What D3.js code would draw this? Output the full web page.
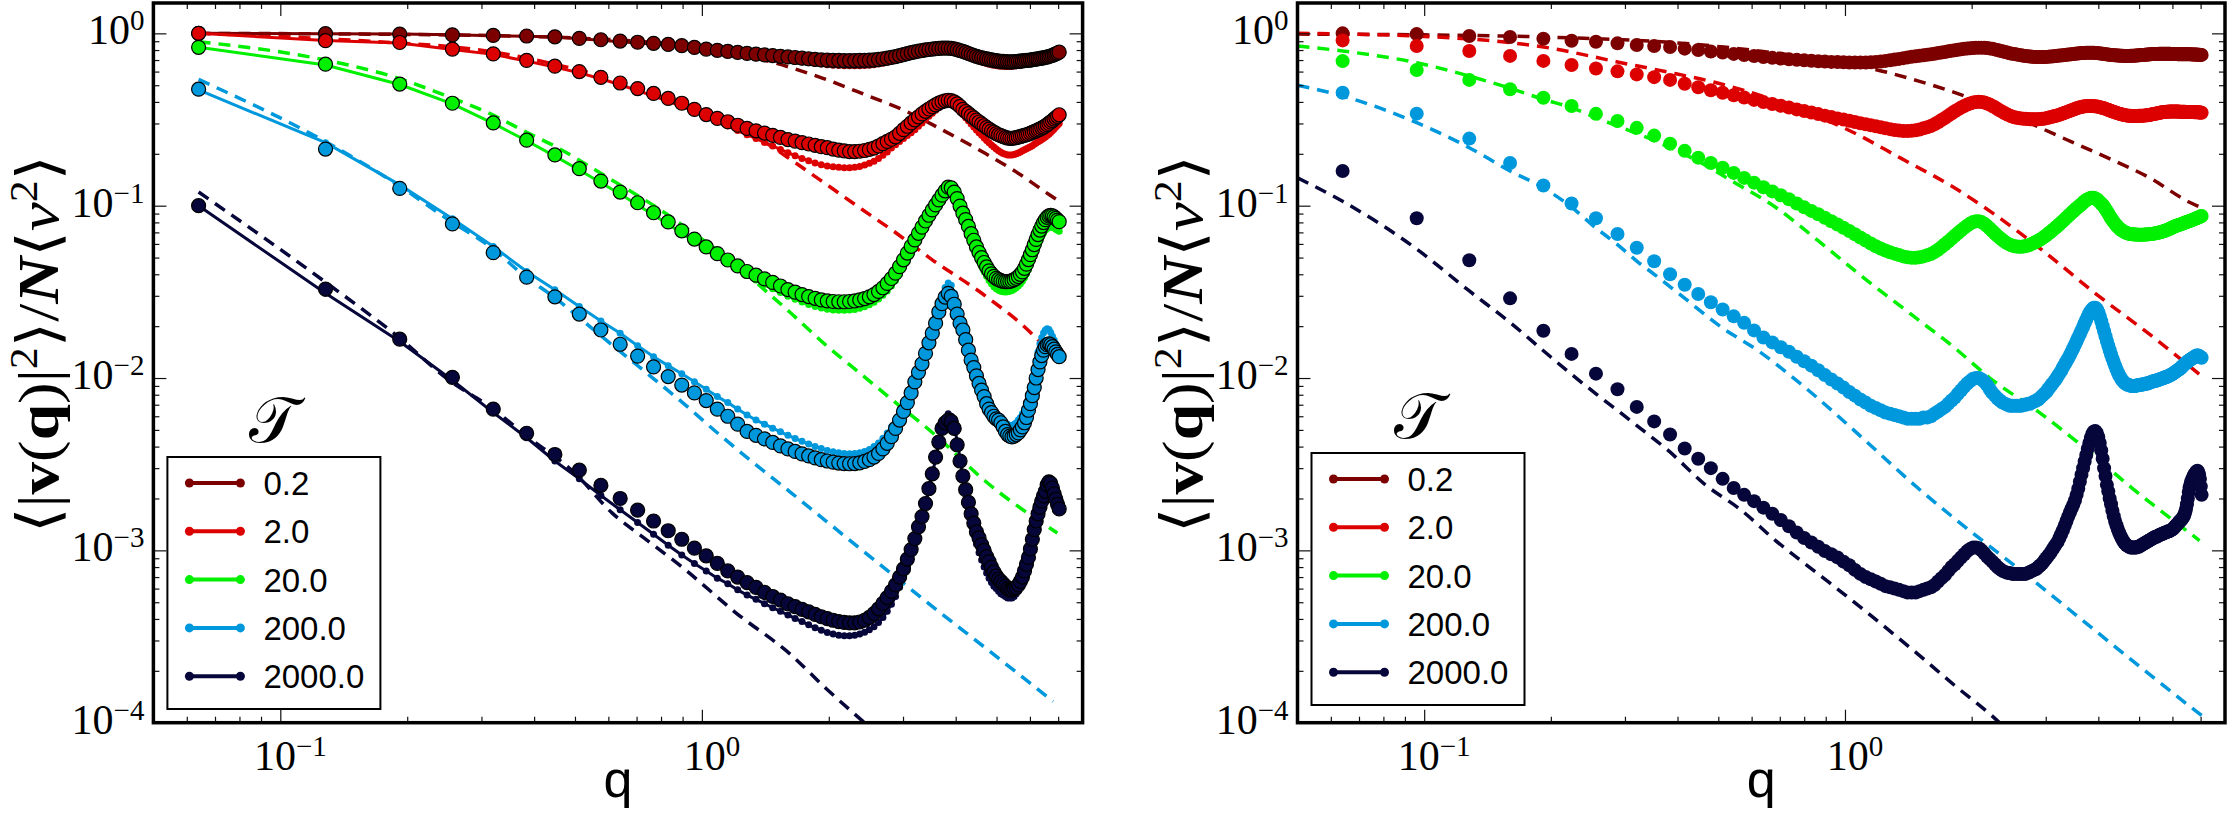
<!DOCTYPE html>
<html>
<head>
<meta charset="utf-8">
<title>velocity spectra</title>
<script src="https://cdn.jsdelivr.net/npm/d3@7"></script>
<style>
  body { margin: 0; background: #fff; }
  svg { display: block; }
</style>
</head>
<body>
<div class="figure"></div>
<script>
// ---------- data ----------
let tauLabels = ["0.2", "2.0", "20.0", "200.0", "2000.0"];
let colors = ["#7d0000", "#dc0000", "#00f000", "#0098dc", "#06063a"];

// left panel: q grid of the simulation points
let qLeft = [0.064,0.128,0.192,0.256,0.32,0.384,0.448,0.512,0.576,0.64,
  0.704,0.768,0.832,0.896,0.96,1.024,1.088,1.152,1.216,1.28,
  1.344,1.408,1.472,1.536,1.6,1.664,1.728,1.792,1.856,1.92,
  1.984,2.048,2.112,2.176,2.24,2.304,2.368,2.432,2.496,2.56,
  2.624,2.688,2.752,2.816,2.88,2.944,3.008,3.072,3.136,3.2,
  3.264,3.328,3.392,3.456,3.52,3.584,3.648,3.712,3.776,3.84,
  3.904,3.968,4.032,4.096,4.16,4.224,4.288,4.352,4.416,4.48,
  4.544,4.608,4.672,4.736,4.8,4.864,4.928,4.992,5.056,5.12,
  5.184,5.248,5.312,5.376,5.44,5.504,5.568,5.632,5.696,5.76,
  5.824,5.888,5.952,6.016,6.08,6.144,6.208,6.272,6.336,6.4,
  6.464,6.528,6.592,6.656,6.72,6.784,6.848,6.912,6.976,7.04];

// right panel: q grid
let qRight = [0.064,0.096,0.128,0.16,0.192,0.224,0.256,0.288,0.32,
  0.352,0.384,0.416,0.448,0.48,0.512,0.544,0.576,0.608,0.64,
  0.672,0.704,0.736,0.768,0.8,0.832,0.864,0.896,0.928,0.96,
  0.992,1.024,1.056,1.088,1.12,1.152,1.184,1.216,1.248,1.28,
  1.312,1.344,1.376,1.408,1.44,1.472,1.504,1.536,1.568,1.6,
  1.632,1.664,1.696,1.728,1.76,1.792,1.824,1.856,1.888,1.92,
  1.952,1.984,2.016,2.048,2.08,2.112,2.144,2.176,2.208,2.24,
  2.272,2.304,2.336,2.368,2.4,2.432,2.464,2.496,2.528,2.56,
  2.592,2.624,2.656,2.688,2.72,2.752,2.784,2.816,2.848,2.88,
  2.912,2.944,2.976,3.008,3.04,3.072,3.104,3.136,3.168,3.2,
  3.232,3.264,3.296,3.328,3.36,3.392,3.424,3.456,3.488,3.52,
  3.552,3.584,3.616,3.648,3.68,3.712,3.744,3.776,3.808,3.84,
  3.872,3.904,3.936,3.968,4.0,4.032,4.064,4.096,4.128,4.16,
  4.192,4.224,4.256,4.288,4.32,4.352,4.384,4.416,4.448,4.48,
  4.512,4.544,4.576,4.608,4.64,4.672,4.704,4.736,4.768,4.8,
  4.832,4.864,4.896,4.928,4.96,4.992,5.024,5.056,5.088,5.12,
  5.152,5.184,5.216,5.248,5.28,5.312,5.344,5.376,5.408,5.44,
  5.472,5.504,5.536,5.568,5.6,5.632,5.664,5.696,5.728,5.76,
  5.792,5.824,5.856,5.888,5.92,5.952,5.984,6.016,6.048,6.08,
  6.112,6.144,6.176,6.208,6.24,6.272,6.304,6.336,6.368,6.4,
  6.432,6.464,6.496,6.528,6.56,6.592,6.624,6.656,6.688,6.72,
  6.752,6.784,6.816,6.848,6.88,6.912,6.944,6.976,7.008,7.04];

// left panel, big black-edged circles
let leftCirc0 = [1.0,0.995,0.99,0.98,0.972,0.965,0.955,0.935,0.918,0.902,
  0.888,0.875,0.862,0.848,0.828,0.81,0.797,0.785,0.775,0.765,
  0.757,0.75,0.743,0.736,0.73,0.724,0.718,0.712,0.706,0.701,
  0.699,0.697,0.696,0.695,0.695,0.695,0.696,0.697,0.699,0.701,
  0.706,0.712,0.718,0.725,0.733,0.743,0.753,0.763,0.772,0.781,
  0.788,0.795,0.801,0.806,0.811,0.815,0.818,0.82,0.821,0.821,
  0.818,0.812,0.804,0.795,0.785,0.775,0.764,0.754,0.744,0.735,
  0.728,0.722,0.716,0.711,0.706,0.701,0.697,0.694,0.691,0.689,
  0.687,0.685,0.684,0.683,0.683,0.684,0.686,0.688,0.69,0.692,
  0.694,0.696,0.698,0.7,0.703,0.706,0.709,0.712,0.715,0.718,
  0.721,0.725,0.729,0.734,0.739,0.745,0.752,0.76,0.768,0.778];
let leftCirc1 = [1.0,0.907,0.885,0.81,0.76,0.697,0.645,0.6,0.556,0.515,
  0.478,0.448,0.419,0.393,0.362,0.338,0.321,0.307,0.293,0.281,
  0.272,0.264,0.256,0.249,0.242,0.237,0.232,0.228,0.224,0.22,
  0.217,0.213,0.21,0.208,0.206,0.206,0.207,0.209,0.212,0.216,
  0.222,0.229,0.236,0.243,0.251,0.263,0.276,0.289,0.302,0.315,
  0.328,0.341,0.353,0.364,0.375,0.385,0.394,0.401,0.406,0.409,
  0.407,0.4,0.39,0.377,0.362,0.352,0.342,0.332,0.323,0.314,
  0.306,0.298,0.291,0.284,0.278,0.272,0.267,0.262,0.258,0.255,
  0.252,0.249,0.247,0.246,0.246,0.247,0.248,0.25,0.252,0.254,
  0.256,0.258,0.26,0.263,0.266,0.269,0.272,0.275,0.278,0.282,
  0.286,0.29,0.295,0.3,0.306,0.312,0.318,0.324,0.33,0.337];
let leftCirc2 = [0.83,0.662,0.508,0.393,0.302,0.24,0.197,0.164,0.139,0.12,
  0.104,0.091,0.0805,0.0715,0.064,0.0576,0.0527,0.0484,0.0447,0.0415,
  0.0395,0.0376,0.0359,0.0342,0.0326,0.0315,0.0305,0.0297,0.029,0.0284,
  0.028,0.0278,0.0277,0.0277,0.0278,0.028,0.0284,0.0289,0.0296,0.0305,
  0.0318,0.0334,0.0354,0.0378,0.0406,0.0443,0.0485,0.0531,0.0581,0.0633,
  0.0691,0.0751,0.0815,0.088,0.0945,0.101,0.108,0.115,0.122,0.128,
  0.127,0.12,0.11,0.0995,0.0905,0.083,0.0758,0.0688,0.063,0.0576,
  0.0535,0.0499,0.0468,0.0441,0.0419,0.0402,0.0389,0.0379,0.0372,0.0367,
  0.0364,0.0363,0.0363,0.0364,0.0367,0.0372,0.0379,0.0388,0.0399,0.0413,
  0.0433,0.0458,0.0487,0.052,0.0555,0.0595,0.0637,0.068,0.0722,0.0762,
  0.0798,0.083,0.0856,0.0872,0.0878,0.0873,0.086,0.0843,0.0825,0.0808];
let leftCirc3 = [0.474,0.213,0.126,0.0784,0.0534,0.0385,0.0296,0.0235,0.019,0.0157,
  0.0134,0.0116,0.0102,0.0091,0.0082,0.0074,0.0066,0.006,0.0054,0.0049,
  0.00465,0.00443,0.00423,0.00404,0.00388,0.00375,0.00363,0.00353,0.00344,0.00336,
  0.0033,0.00325,0.00321,0.00319,0.00318,0.00319,0.00322,0.00328,0.00336,0.00348,
  0.00365,0.00388,0.00418,0.00457,0.0051,0.0057,0.0064,0.0072,0.0082,0.0095,
  0.0108,0.0121,0.0139,0.016,0.0182,0.0208,0.0242,0.027,0.0295,0.031,
  0.0298,0.0268,0.0235,0.0208,0.019,0.0167,0.0145,0.0127,0.0115,0.0103,
  0.0093,0.0085,0.0078,0.0071,0.0066,0.0063,0.006,0.0058,0.0057,0.0055,
  0.0052,0.0049,0.0047,0.0046,0.00455,0.0046,0.0047,0.0048,0.005,0.0052,
  0.0055,0.0059,0.0065,0.0071,0.0079,0.0088,0.01,0.0112,0.0124,0.0135,
  0.0145,0.0152,0.0156,0.0158,0.0156,0.0152,0.0147,0.0142,0.0137,0.0133];
let leftCirc4 = [0.1,0.0328,0.0168,0.0101,0.0066,0.00478,0.0036,0.00292,0.00238,0.002,
  0.00171,0.00148,0.0013,0.00116,0.00103,0.00093,0.00084,0.00076,0.0007,0.00065,
  0.00061,0.00057,0.00054,0.000515,0.00049,0.000472,0.000455,0.00044,0.000425,0.000412,
  0.000402,0.000393,0.000386,0.000382,0.00038,0.00038,0.000384,0.000393,0.000408,0.00043,
  0.000458,0.000492,0.000532,0.000578,0.00063,0.0007,0.00078,0.00089,0.00101,0.00117,
  0.00137,0.00157,0.00187,0.00228,0.00278,0.00348,0.00425,0.0051,0.0055,0.0057,
  0.0056,0.0051,0.0041,0.0033,0.0027,0.00225,0.0019,0.00163,0.00144,0.00128,
  0.00118,0.00108,0.001,0.00092,0.00086,0.0008,0.00075,0.00071,0.00068,0.00066,
  0.00064,0.00062,0.0006,0.00059,0.00059,0.0006,0.00061,0.00063,0.00066,0.0007,
  0.00076,0.00083,0.00091,0.00102,0.00116,0.00132,0.00148,0.00163,0.00178,0.00193,
  0.00207,0.0022,0.0024,0.0025,0.00245,0.0023,0.00213,0.00198,0.00185,0.00174];

// left panel, solid line with small dots
let leftLine0 = [1.0,0.995,0.99,0.98,0.97,0.962,0.952,0.93,0.912,0.895,
  0.88,0.866,0.852,0.838,0.818,0.8,0.786,0.772,0.76,0.748,
  0.737,0.727,0.717,0.707,0.698,0.69,0.682,0.675,0.669,0.663,
  0.658,0.654,0.651,0.649,0.648,0.648,0.649,0.651,0.654,0.658,
  0.664,0.671,0.679,0.688,0.698,0.71,0.722,0.735,0.748,0.76,
  0.77,0.779,0.787,0.794,0.8,0.805,0.809,0.811,0.812,0.811,
  0.807,0.8,0.79,0.778,0.765,0.752,0.738,0.725,0.713,0.702,
  0.692,0.683,0.675,0.668,0.662,0.657,0.653,0.65,0.647,0.645,
  0.644,0.643,0.643,0.643,0.644,0.646,0.648,0.651,0.654,0.657,
  0.66,0.663,0.666,0.67,0.673,0.677,0.681,0.685,0.689,0.693,
  0.697,0.702,0.707,0.713,0.719,0.726,0.733,0.741,0.75,0.76];
let leftLine1 = [1.0,0.91,0.88,0.805,0.755,0.69,0.638,0.59,0.545,0.503,
  0.465,0.433,0.403,0.377,0.352,0.328,0.308,0.29,0.273,0.258,
  0.245,0.233,0.222,0.212,0.203,0.195,0.188,0.182,0.177,0.173,
  0.17,0.168,0.167,0.166,0.166,0.167,0.169,0.172,0.176,0.181,
  0.188,0.196,0.205,0.216,0.226,0.236,0.245,0.255,0.265,0.276,
  0.289,0.302,0.316,0.33,0.344,0.358,0.371,0.382,0.39,0.393,
  0.39,0.381,0.368,0.353,0.338,0.324,0.311,0.298,0.286,0.275,
  0.265,0.256,0.247,0.239,0.232,0.225,0.219,0.213,0.208,0.204,
  0.201,0.199,0.197,0.197,0.197,0.198,0.2,0.202,0.205,0.208,
  0.211,0.214,0.217,0.22,0.223,0.227,0.231,0.235,0.238,0.242,
  0.246,0.25,0.255,0.26,0.266,0.272,0.279,0.286,0.293,0.3];
let leftLine2 = [0.83,0.655,0.505,0.39,0.3,0.238,0.194,0.161,0.136,0.117,
  0.101,0.0883,0.078,0.0693,0.062,0.0557,0.0507,0.0464,0.0427,0.0395,
  0.0371,0.0349,0.033,0.0313,0.0298,0.0286,0.0276,0.0267,0.026,0.0255,
  0.0251,0.0248,0.0247,0.0247,0.0248,0.025,0.0254,0.0259,0.0266,0.0275,
  0.0287,0.0302,0.032,0.0342,0.0368,0.0401,0.0439,0.048,0.0526,0.0575,
  0.0628,0.0684,0.0743,0.0804,0.0866,0.0929,0.0993,0.106,0.113,0.118,
  0.117,0.111,0.102,0.0925,0.0838,0.0763,0.0692,0.0625,0.0568,0.0518,
  0.0478,0.0444,0.0414,0.0389,0.0368,0.0352,0.0339,0.033,0.0323,0.0319,
  0.0317,0.0316,0.0317,0.0319,0.0322,0.0327,0.0334,0.0342,0.0352,0.0365,
  0.0382,0.0403,0.0427,0.0455,0.0486,0.052,0.0556,0.0593,0.063,0.0665,
  0.0695,0.072,0.0738,0.0748,0.0752,0.0749,0.0741,0.073,0.072,0.071];
let leftLine3 = [0.47,0.232,0.132,0.084,0.058,0.0415,0.0325,0.026,0.0214,0.0182,
  0.0154,0.0133,0.0118,0.0106,0.0095,0.0086,0.0078,0.0072,0.0066,0.0061,
  0.0057,0.0054,0.00512,0.00487,0.00465,0.00446,0.00429,0.00414,0.00401,0.0039,
  0.0038,0.00373,0.00368,0.00365,0.00364,0.00365,0.00368,0.00375,0.00385,0.004,
  0.0042,0.00447,0.0048,0.0052,0.0057,0.0064,0.0072,0.0082,0.0094,0.0108,
  0.0123,0.014,0.0159,0.018,0.0203,0.0228,0.0262,0.0298,0.0335,0.0356,
  0.0345,0.031,0.0272,0.0238,0.021,0.0184,0.0162,0.0143,0.0127,0.0114,
  0.0103,0.0094,0.0086,0.0079,0.0074,0.0069,0.0065,0.0062,0.006,0.0058,
  0.0056,0.0055,0.0054,0.0053,0.0053,0.0054,0.0055,0.0057,0.0059,0.0062,
  0.0066,0.0071,0.0078,0.0087,0.0098,0.0111,0.0126,0.0142,0.0158,0.0172,
  0.0183,0.019,0.0193,0.0191,0.0184,0.0175,0.0166,0.0158,0.0151,0.0145];
let leftLine4 = [0.1,0.031,0.0163,0.0097,0.0063,0.0045,0.0033,0.0026,0.00208,0.00172,
  0.00145,0.00124,0.00107,0.00094,0.00084,0.00076,0.00069,0.00064,0.00059,0.00055,
  0.00052,0.00049,0.000465,0.000443,0.000422,0.000403,0.000386,0.00037,0.000356,0.000344,
  0.000334,0.000327,0.000322,0.00032,0.00032,0.000322,0.000327,0.000335,0.000346,0.00036,
  0.000381,0.000408,0.000443,0.000487,0.00054,0.00061,0.0007,0.00081,0.00094,0.00111,
  0.00131,0.00155,0.00185,0.00224,0.00275,0.0034,0.0042,0.0051,0.0058,0.0062,
  0.006,0.0053,0.0043,0.0034,0.0027,0.00215,0.00175,0.00146,0.00125,0.00109,
  0.00097,0.00088,0.0008,0.00074,0.00069,0.00065,0.00062,0.0006,0.00058,0.00056,
  0.00055,0.00054,0.00053,0.00053,0.00053,0.00054,0.00056,0.00058,0.00062,0.00067,
  0.00074,0.00083,0.00095,0.0011,0.00128,0.00148,0.00168,0.00188,0.00207,0.00224,
  0.00238,0.00248,0.00254,0.00254,0.00248,0.00238,0.00226,0.00214,0.00204,0.00196];

// right panel, filled dots
let rightDots0 = [1.0,0.99,0.965,0.952,0.93,0.905,0.893,0.875,0.855,
  0.845,0.833,0.815,0.8,0.785,0.773,0.76,0.749,0.738,0.729,
  0.721,0.714,0.708,0.702,0.697,0.693,0.689,0.686,0.683,0.681,
  0.679,0.678,0.677,0.677,0.678,0.68,0.683,0.687,0.692,0.697,
  0.704,0.711,0.718,0.725,0.732,0.737,0.742,0.747,0.751,0.756,
  0.762,0.768,0.774,0.78,0.786,0.792,0.798,0.803,0.808,0.813,
  0.817,0.82,0.823,0.825,0.826,0.826,0.825,0.822,0.818,0.813,
  0.807,0.8,0.793,0.786,0.779,0.773,0.767,0.762,0.758,0.754,
  0.75,0.746,0.742,0.739,0.736,0.734,0.732,0.73,0.729,0.728,
  0.728,0.728,0.729,0.73,0.731,0.733,0.735,0.737,0.739,0.741,
  0.743,0.745,0.747,0.749,0.751,0.753,0.755,0.757,0.759,0.761,
  0.763,0.765,0.767,0.768,0.769,0.77,0.771,0.772,0.772,0.772,
  0.772,0.771,0.77,0.769,0.767,0.765,0.763,0.761,0.759,0.757,
  0.755,0.753,0.751,0.749,0.748,0.747,0.746,0.745,0.744,0.743,
  0.742,0.741,0.741,0.74,0.74,0.74,0.74,0.74,0.741,0.741,
  0.742,0.742,0.743,0.744,0.745,0.746,0.747,0.748,0.749,0.75,
  0.751,0.752,0.753,0.754,0.755,0.756,0.757,0.758,0.758,0.759,
  0.759,0.76,0.76,0.761,0.761,0.761,0.762,0.762,0.762,0.762,
  0.762,0.762,0.761,0.761,0.761,0.76,0.76,0.759,0.759,0.758,
  0.758,0.758,0.757,0.757,0.757,0.756,0.756,0.756,0.756,0.756,
  0.756,0.756,0.756,0.756,0.756,0.756,0.756,0.755,0.755,0.755,
  0.754,0.754,0.753,0.753,0.752,0.752,0.751,0.751,0.75,0.75];
let rightDots1 = [0.91,0.845,0.79,0.74,0.692,0.655,0.625,0.602,0.578,
  0.557,0.537,0.51,0.487,0.468,0.452,0.437,0.424,0.411,0.399,
  0.389,0.38,0.371,0.362,0.354,0.347,0.34,0.333,0.327,0.321,
  0.316,0.311,0.306,0.301,0.297,0.293,0.289,0.285,0.281,0.278,
  0.275,0.273,0.271,0.271,0.272,0.274,0.277,0.281,0.285,0.29,
  0.297,0.305,0.314,0.323,0.333,0.343,0.353,0.362,0.371,0.379,
  0.386,0.392,0.397,0.4,0.401,0.4,0.397,0.392,0.386,0.379,
  0.372,0.364,0.357,0.35,0.344,0.338,0.333,0.329,0.326,0.324,
  0.322,0.321,0.32,0.319,0.318,0.317,0.317,0.317,0.317,0.317,
  0.318,0.319,0.32,0.322,0.324,0.326,0.328,0.33,0.332,0.334,
  0.337,0.34,0.343,0.346,0.349,0.352,0.355,0.358,0.361,0.364,
  0.367,0.37,0.372,0.374,0.376,0.377,0.378,0.379,0.379,0.379,
  0.379,0.378,0.377,0.376,0.375,0.373,0.371,0.369,0.367,0.365,
  0.362,0.36,0.357,0.355,0.352,0.35,0.348,0.346,0.344,0.342,
  0.34,0.339,0.337,0.336,0.335,0.334,0.333,0.332,0.332,0.331,
  0.331,0.331,0.331,0.331,0.331,0.332,0.332,0.332,0.333,0.333,
  0.334,0.334,0.335,0.335,0.336,0.337,0.338,0.339,0.34,0.341,
  0.342,0.343,0.344,0.345,0.346,0.347,0.348,0.349,0.35,0.35,
  0.351,0.351,0.351,0.352,0.352,0.352,0.352,0.352,0.352,0.352,
  0.352,0.352,0.352,0.352,0.351,0.351,0.351,0.351,0.351,0.351,
  0.351,0.35,0.35,0.35,0.35,0.35,0.35,0.35,0.35,0.35,
  0.349,0.349,0.349,0.348,0.348,0.348,0.347,0.347,0.347,0.346];
let rightDots2 = [0.69,0.613,0.537,0.474,0.423,0.379,0.341,0.31,0.283,
  0.255,0.229,0.208,0.19,0.177,0.166,0.155,0.145,0.136,0.128,
  0.121,0.115,0.109,0.103,0.0978,0.0933,0.0891,0.0851,0.0813,0.0778,
  0.0745,0.0713,0.0683,0.0654,0.0627,0.0603,0.0582,0.0564,0.0549,0.0537,
  0.0527,0.0517,0.0508,0.0502,0.0499,0.0499,0.0502,0.0508,0.0515,0.0524,
  0.0538,0.0555,0.0575,0.0597,0.062,0.0644,0.0669,0.0694,0.0719,0.0743,
  0.0766,0.0787,0.0803,0.0812,0.0812,0.0803,0.0786,0.0763,0.0738,0.0713,
  0.069,0.0668,0.0649,0.0632,0.0617,0.0604,0.0594,0.0587,0.0582,0.0579,
  0.0578,0.0578,0.058,0.0583,0.0588,0.0594,0.0601,0.0609,0.0618,0.0627,
  0.0637,0.0648,0.066,0.0673,0.0687,0.0701,0.0716,0.0731,0.0747,0.0763,
  0.078,0.0797,0.0815,0.0833,0.0852,0.0871,0.089,0.0909,0.0928,0.0947,
  0.0966,0.0985,0.1,0.102,0.104,0.106,0.108,0.109,0.11,0.111,
  0.111,0.111,0.11,0.109,0.107,0.105,0.103,0.101,0.0985,0.0958,
  0.093,0.0902,0.0875,0.0849,0.0826,0.0805,0.0786,0.0769,0.0754,0.0741,
  0.073,0.072,0.0712,0.0705,0.0699,0.0694,0.069,0.0687,0.0685,0.0683,
  0.0682,0.0681,0.068,0.068,0.0679,0.0679,0.0679,0.0679,0.0679,0.0679,
  0.068,0.068,0.0681,0.0682,0.0683,0.0684,0.0685,0.0686,0.0688,0.069,
  0.0692,0.0694,0.0696,0.0698,0.07,0.0703,0.0706,0.0709,0.0712,0.0715,
  0.0719,0.0723,0.0727,0.0731,0.0735,0.0739,0.0744,0.0749,0.0754,0.0759,
  0.0763,0.0766,0.077,0.0773,0.0776,0.0779,0.0783,0.0786,0.079,0.0794,
  0.0798,0.0801,0.0805,0.0808,0.0812,0.0815,0.0819,0.0822,0.0826,0.083,
  0.0834,0.0838,0.0842,0.0846,0.085,0.0854,0.0858,0.0863,0.0867,0.0872];
let rightDots3 = [0.452,0.342,0.245,0.177,0.131,0.103,0.0845,0.0685,0.057,
  0.0476,0.04,0.0348,0.0307,0.0275,0.025,0.0228,0.0209,0.0189,0.0172,
  0.0161,0.0151,0.0142,0.0133,0.0125,0.0118,0.0111,0.0104,0.0098,0.0093,
  0.0088,0.0083,0.0079,0.0075,0.0072,0.0069,0.0067,0.0065,0.0063,0.0062,
  0.0061,0.006,0.0059,0.0058,0.0058,0.0058,0.0058,0.0059,0.0059,0.006,
  0.0062,0.0064,0.0066,0.0068,0.0071,0.0074,0.0077,0.0081,0.0085,0.0089,
  0.0093,0.0096,0.0099,0.01,0.01,0.0098,0.0095,0.0091,0.0086,0.0082,
  0.0079,0.0076,0.0074,0.0072,0.0071,0.007,0.0069,0.0069,0.0069,0.0069,
  0.0069,0.0069,0.007,0.007,0.0071,0.0071,0.0072,0.0073,0.0074,0.0075,
  0.0077,0.0079,0.0081,0.0083,0.0086,0.0089,0.0092,0.0095,0.0098,0.0102,
  0.0106,0.011,0.0115,0.012,0.0125,0.013,0.0136,0.0142,0.0149,0.0156,
  0.0164,0.0172,0.018,0.0189,0.0198,0.0208,0.0218,0.0228,0.0238,0.0246,
  0.0252,0.0256,0.0256,0.0251,0.0241,0.0228,0.0214,0.02,0.0187,0.0175,
  0.0164,0.0154,0.0145,0.0137,0.013,0.0124,0.0118,0.0113,0.0108,0.0104,
  0.0101,0.0098,0.0096,0.0094,0.0093,0.0092,0.0091,0.0091,0.009,0.009,
  0.009,0.009,0.009,0.009,0.0091,0.0091,0.0091,0.0091,0.0092,0.0092,
  0.0092,0.0093,0.0093,0.0093,0.0094,0.0094,0.0095,0.0095,0.0096,0.0096,
  0.0096,0.0097,0.0097,0.0098,0.0098,0.0099,0.0099,0.01,0.01,0.0101,
  0.0101,0.0102,0.0102,0.0103,0.0104,0.0104,0.0105,0.0106,0.0107,0.0108,
  0.0109,0.011,0.0111,0.0112,0.0113,0.0114,0.0115,0.0117,0.0118,0.012,
  0.0121,0.0122,0.0123,0.0125,0.0126,0.0127,0.0128,0.0129,0.013,0.0131,
  0.0132,0.0133,0.0134,0.0135,0.0135,0.0135,0.0134,0.0133,0.0132,0.0131];
let rightDots4 = [0.159,0.0845,0.0482,0.029,0.0188,0.0138,0.0106,0.0086,0.0068,
  0.0056,0.0047,0.0039,0.0034,0.003,0.0026,0.0023,0.0021,0.00193,0.00177,
  0.00163,0.0015,0.00138,0.00127,0.00118,0.00111,0.00105,0.00099,0.00095,0.00091,
  0.00086,0.00082,0.00077,0.00073,0.0007,0.00068,0.00066,0.00064,0.00062,0.00061,
  0.0006,0.00059,0.00058,0.00057,0.00057,0.00057,0.00058,0.00059,0.0006,0.00061,
  0.00063,0.00066,0.00069,0.00072,0.00076,0.0008,0.00083,0.00087,0.00091,0.00095,
  0.00099,0.00102,0.00104,0.00104,0.00103,0.001,0.00096,0.00092,0.00089,0.00086,
  0.00083,0.0008,0.00078,0.00076,0.00075,0.00074,0.00074,0.00073,0.00073,0.00073,
  0.00073,0.00073,0.00073,0.00073,0.00074,0.00075,0.00076,0.00077,0.00078,0.0008,
  0.00082,0.00084,0.00087,0.0009,0.00093,0.00096,0.001,0.00104,0.00108,0.00112,
  0.00118,0.00124,0.00131,0.00139,0.00148,0.00157,0.00166,0.00175,0.00184,0.00195,
  0.0021,0.00228,0.0025,0.00275,0.003,0.00328,0.00358,0.00389,0.0042,0.0045,
  0.00475,0.0049,0.00492,0.0048,0.00455,0.0042,0.0038,0.0034,0.003,0.0027,
  0.0024,0.0022,0.002,0.00185,0.0017,0.00158,0.00148,0.0014,0.00133,0.00127,
  0.00122,0.00118,0.00114,0.00111,0.00109,0.00107,0.00106,0.00105,0.00104,0.00104,
  0.00104,0.00104,0.00104,0.00104,0.00105,0.00105,0.00106,0.00107,0.00108,0.00109,
  0.0011,0.00111,0.00112,0.00113,0.00114,0.00115,0.00116,0.00117,0.00118,0.00119,
  0.0012,0.0012,0.00121,0.00122,0.00123,0.00124,0.00124,0.00125,0.00126,0.00127,
  0.00127,0.00128,0.00129,0.00129,0.0013,0.00131,0.00132,0.00133,0.00135,0.00137,
  0.00139,0.00141,0.00143,0.00145,0.00147,0.00149,0.00151,0.00153,0.00156,0.0016,
  0.00166,0.00174,0.00185,0.002,0.00218,0.00232,0.00243,0.00252,0.0026,0.00267,
  0.00273,0.00278,0.00283,0.00287,0.0029,0.00285,0.00275,0.0026,0.00235,0.0021];

// dashed theory curves, left panel
let leftDashQ0 = [0.064,0.2,0.5,1.0,1.5,1.93,2.5,3.0,3.67,4.72,5.5,6.7,7.0];
let leftDashV0 = [1.0,0.985,0.94,0.82,0.67,0.55,0.43,0.36,0.28,0.2,0.16,0.115,0.107];
let leftDashQ1 = [0.064,0.128,0.19,0.25,0.32,0.45,0.6,0.8,1.0,1.385,1.68,2.0,2.4,2.9,3.5,4.7,6.1,6.9];
let leftDashV1 = [1.0,0.93,0.88,0.84,0.78,0.66,0.55,0.43,0.35,0.24,0.175,0.13,0.095,0.069,0.049,0.03,0.0178,0.0128];
let leftDashQ2 = [0.064,0.128,0.19,0.25,0.32,0.38,0.45,0.6,0.8,1.0,1.2,1.36,1.62,1.97,2.39,2.9,3.53,4.72,6.97];
let leftDashV2 = [0.895,0.7,0.55,0.43,0.335,0.27,0.22,0.145,0.094,0.064,0.046,0.035,0.024,0.0155,0.0105,0.0071,0.0048,0.0025,0.00126];
let leftDashQ3 = [0.064,0.128,0.19,0.25,0.32,0.38,0.45,0.5,0.6,0.75,0.9,1.1,1.33,1.62,1.97,2.39,2.9,3.53,4.72,6.81];
let leftDashV3 = [0.54,0.235,0.132,0.083,0.056,0.039,0.029,0.0235,0.0162,0.0104,0.0072,0.0047,0.0032,0.00218,0.00148,0.00101,0.00069,0.00047,0.00027,0.000133];
let leftDashQ4 = [0.064,0.128,0.19,0.25,0.32,0.38,0.5,0.612,0.743,0.903,1.21,1.62,1.97,2.43,2.7];
let leftDashV4 = [0.12,0.036,0.0174,0.0098,0.0066,0.0047,0.0028,0.00165,0.00114,0.00079,0.00043,0.00025,0.000158,0.0001,0.00008];

// dashed theory curves, right panel
let rightDashQ0 = [0.05,0.1,0.2,0.4,0.6,0.8,1.14,1.49,1.89,2.68,3.26,4.2,5.3,6.57,7.05];
let rightDashV0 = [0.99,0.98,0.95,0.88,0.8,0.73,0.63,0.53,0.44,0.31,0.25,0.19,0.145,0.105,0.097];
let rightDashQ1 = [0.05,0.1,0.2,0.29,0.374,0.49,0.7,1.05,1.35,1.82,2.21,2.96,3.96,5.3,6.96];
let rightDashV1 = [1.0,0.96,0.82,0.68,0.6,0.52,0.4,0.265,0.19,0.127,0.093,0.0546,0.0306,0.0179,0.0105];
let rightDashQ2 = [0.05,0.064,0.096,0.128,0.16,0.192,0.224,0.256,0.288,0.35,0.45,0.55,0.684,0.865,1.11,1.44,1.82,2.21,2.9,3.59,4.81,6.96];
let rightDashV2 = [0.844,0.79,0.675,0.565,0.48,0.414,0.37,0.324,0.29,0.24,0.18,0.135,0.098,0.0624,0.038,0.0233,0.015,0.01,0.0063,0.0042,0.0023,0.00114];
let rightDashQ3 = [0.05,0.064,0.096,0.128,0.16,0.192,0.224,0.256,0.288,0.32,0.352,0.405,0.512,0.622,0.755,0.936,1.11,1.49,2.02,2.68,3.59,4.81,6.67,7.05];
let rightDashV3 = [0.5,0.433,0.303,0.217,0.159,0.127,0.098,0.0742,0.0595,0.0477,0.04,0.0306,0.0195,0.0144,0.01,0.0064,0.0044,0.0023,0.00125,0.00073,0.00041,0.00023,0.000122,0.00011];
let rightDashQ4 = [0.05,0.064,0.096,0.128,0.16,0.192,0.224,0.256,0.29,0.33,0.38,0.466,0.567,0.684,0.883,1.11,1.49,1.82,2.26,2.5];
let rightDashV4 = [0.145,0.106,0.056,0.032,0.021,0.0144,0.0105,0.0081,0.0064,0.005,0.0038,0.0024,0.00171,0.00114,0.0007,0.00045,0.00025,0.000165,0.000107,0.000085];

// ---------- drawing ----------
let width = 2230, height = 814;
let plotTop = 3, plotBottom = 722.7;
let serif = "'Liberation Serif', 'DejaVu Serif', serif";
let sans = "'Liberation Sans', Arial, sans-serif";

let svg = d3.select(".figure").append("svg")
  .attr("width", width)
  .attr("height", height);

let zipQV = (qs, vs) => qs.map((q, i) => [q, vs[i]]);

function drawPanel(cfg) {
  let x = d3.scaleLog().domain([0.05, 8]).range([cfg.x0, cfg.x1]);
  let y = d3.scaleLog().domain([1e-4, 1.5]).range([plotBottom, plotTop]);

  let panel = svg.append("g").attr("class", "panel-" + cfg.id);

  panel.append("clipPath").attr("id", "clip-" + cfg.id)
    .append("rect")
    .attr("x", cfg.x0).attr("y", plotTop)
    .attr("width", cfg.x1 - cfg.x0).attr("height", plotBottom - plotTop);

  let plot = panel.append("g").attr("clip-path", "url(#clip-" + cfg.id + ")");

  // theory, dashed
  let smooth = d3.line().x(d => x(d[0])).y(d => y(d[1])).curve(d3.curveMonotoneX);
  cfg.dash.forEach((s, k) => {
    plot.append("path")
      .attr("d", smooth(zipQV(s[0], s[1])))
      .attr("fill", "none")
      .attr("stroke", colors[k])
      .attr("stroke-width", 3.5)
      .attr("stroke-dasharray", "12,8");
  });

  let straight = d3.line().x(d => x(d[0])).y(d => y(d[1]));

  cfg.series.forEach((s, k) => {
    if (s.line) {
      let pts = zipQV(cfg.q, s.line);
      plot.append("path")
        .attr("d", straight(pts))
        .attr("fill", "none")
        .attr("stroke", colors[k])
        .attr("stroke-width", 3);
      plot.selectAll(null)
        .data(pts)
        .enter().append("circle")
        .attr("cx", d => x(d[0]))
        .attr("cy", d => y(d[1]))
        .attr("r", 3.5)
        .attr("fill", colors[k]);
    }
    plot.selectAll(null)
      .data(zipQV(cfg.q, s.marks))
      .enter().append("circle")
      .attr("cx", d => x(d[0]))
      .attr("cy", d => y(d[1]))
      .attr("r", cfg.markR)
      .attr("fill", colors[k])
      .attr("stroke", cfg.edge ? "#000" : "none")
      .attr("stroke-width", 1.2);
  });

  // ticks on all four sides, pointing in
  let isMajor = v => Math.abs(Math.log10(v) - Math.round(Math.log10(v))) < 1e-9;
  let xt = x.ticks().filter(v => v > 0.0501 && v < 7.99);
  let yt = y.ticks().filter(v => v > 1.01e-4 && v < 1.49);
  let xMaj = xt.filter(isMajor), xMin = xt.filter(v => !isMajor(v));
  let yMaj = yt.filter(isMajor), yMin = yt.filter(v => !isMajor(v));

  let axes = panel.append("g").attr("class", "axes");
  function tickRow(gen, vals, size, tx, ty) {
    axes.append("g")
      .attr("transform", "translate(" + tx + "," + ty + ")")
      .call(gen.tickValues(vals).tickSize(size).tickFormat(""))
      .call(a => a.select(".domain").remove())
      .call(a => a.selectAll("text").remove())
      .call(a => a.selectAll("line").attr("stroke", "#111").attr("stroke-width", 1.2));
  }
  tickRow(d3.axisBottom(x), xMaj, -13, 0, plotBottom);
  tickRow(d3.axisBottom(x), xMin, -6, 0, plotBottom);
  tickRow(d3.axisTop(x), xMaj, -13, 0, plotTop);
  tickRow(d3.axisTop(x), xMin, -6, 0, plotTop);
  tickRow(d3.axisLeft(y), yMaj.concat([1e-4]), -13, cfg.x0, 0);
  tickRow(d3.axisLeft(y), yMin, -6, cfg.x0, 0);
  tickRow(d3.axisRight(y), yMaj, -13, cfg.x1, 0);
  tickRow(d3.axisRight(y), yMin, -6, cfg.x1, 0);

  // frame
  panel.append("rect")
    .attr("x", cfg.x0).attr("y", plotTop)
    .attr("width", cfg.x1 - cfg.x0).attr("height", plotBottom - plotTop)
    .attr("fill", "none").attr("stroke", "#000").attr("stroke-width", 3.5);

  let expText = e => (e < 0 ? "\u2212" + (-e) : String(e));

  xMaj.forEach(v => {
    let e = Math.round(Math.log10(v));
    let t = axes.append("text")
      .attr("x", x(v) + 10).attr("y", 770)
      .attr("text-anchor", "middle")
      .attr("font-family", serif).attr("font-size", 42);
    t.append("tspan").text("10");
    t.append("tspan").attr("dy", -14).attr("font-size", 29).text(expText(e));
  });

  yMaj.concat([1e-4]).forEach(v => {
    let e = Math.round(Math.log10(v));
    let t = axes.append("text")
      .attr("x", cfg.x0 - 9).attr("y", y(v) + 11)
      .attr("text-anchor", "end")
      .attr("font-family", serif).attr("font-size", 42);
    t.append("tspan").text("10");
    t.append("tspan").attr("dy", -14).attr("font-size", 29).text(expText(e));
  });

  // axis titles
  panel.append("text")
    .attr("x", (cfg.x0 + cfg.x1) / 2).attr("y", 797)
    .attr("text-anchor", "middle")
    .attr("font-family", sans).attr("font-size", 52)
    .text("q");

  let yl = panel.append("text")
    .attr("transform", "translate(" + cfg.ylabX + ",344) rotate(-90)")
    .attr("text-anchor", "middle")
    .attr("font-family", serif).attr("font-size", 58)
    .attr("textLength", 378)
    .attr("lengthAdjust", "spacingAndGlyphs");
  yl.append("tspan").text("\u27e8|");
  yl.append("tspan").attr("font-weight", "bold").text("v");
  yl.append("tspan").text("(");
  yl.append("tspan").attr("font-weight", "bold").text("q");
  yl.append("tspan").text(")|");
  yl.append("tspan").attr("dy", -21).attr("font-size", 39).text("2");
  yl.append("tspan").attr("dy", 21).text("\u27e9/");
  yl.append("tspan").attr("font-weight", "bold").attr("font-style", "italic").text("N");
  yl.append("tspan").text("\u27e8");
  yl.append("tspan").attr("font-style", "italic").text("v");
  yl.append("tspan").attr("dy", -21).attr("font-size", 39).text("2");
  yl.append("tspan").attr("dy", 21).text("\u27e9");

  // legend
  let lg = panel.append("g").attr("class", "legend");
  let bx = cfg.x0 + 14, by = cfg.legendY, bw = 213, bh = 252;
  lg.append("rect")
    .attr("x", bx).attr("y", by).attr("width", bw).attr("height", bh)
    .attr("fill", "#fff").attr("stroke", "#000").attr("stroke-width", 2);
  tauLabels.forEach((lab, k) => {
    let ly = by + 26 + k * 48.3;
    lg.append("line")
      .attr("x1", bx + 22).attr("x2", bx + 73).attr("y1", ly).attr("y2", ly)
      .attr("stroke", colors[k]).attr("stroke-width", 4);
    [bx + 22, bx + 73].forEach(cx => {
      lg.append("circle").attr("cx", cx).attr("cy", ly).attr("r", 4.5).attr("fill", colors[k]);
    });
    lg.append("text")
      .attr("x", bx + 96).attr("y", ly + 12)
      .attr("font-family", sans).attr("font-size", 33)
      .text(lab);
  });
  lg.append("text")
    .attr("x", bx + bw / 2).attr("y", by - 15)
    .attr("text-anchor", "middle")
    .attr("font-family", "'DejaVu Serif', 'DejaVu Sans', serif")
    .attr("font-size", 64)
    .text("\ud835\udcaf");
}

let leftSeries = [
  { marks: leftCirc0, line: leftLine0 },
  { marks: leftCirc1, line: leftLine1 },
  { marks: leftCirc2, line: leftLine2 },
  { marks: leftCirc3, line: leftLine3 },
  { marks: leftCirc4, line: leftLine4 }
];
let rightSeries = [rightDots0, rightDots1, rightDots2, rightDots3, rightDots4].map(v => ({ marks: v }));

drawPanel({
  id: "left", x0: 153.4, x1: 1082.6, ylabX: 58, legendY: 457,
  q: qLeft, series: leftSeries, markR: 7, edge: true,
  dash: [[leftDashQ0, leftDashV0], [leftDashQ1, leftDashV1], [leftDashQ2, leftDashV2],
         [leftDashQ3, leftDashV3], [leftDashQ4, leftDashV4]]
});

drawPanel({
  id: "right", x0: 1297.5, x1: 2225, ylabX: 1202, legendY: 453,
  q: qRight, series: rightSeries, markR: 7, edge: false,
  dash: [[rightDashQ0, rightDashV0], [rightDashQ1, rightDashV1], [rightDashQ2, rightDashV2],
         [rightDashQ3, rightDashV3], [rightDashQ4, rightDashV4]]
});
</script>
</body>
</html>
